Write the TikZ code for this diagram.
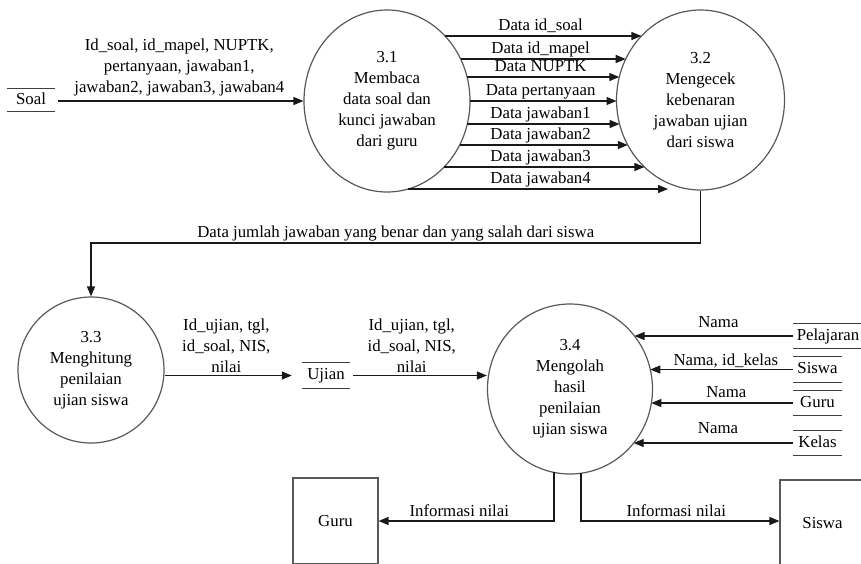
\documentclass[tikz,border=0pt]{standalone}
\usepackage{fontspec}
\setmainfont{Liberation Serif}
\usetikzlibrary{arrows.meta,calc,shapes.geometric}

\begin{document}
\begin{tikzpicture}[
  x=1pt, y=-1pt,
  % half-chord of an ellipse with semi-axes a (along) and b (across) at offset d
  declare function={bx(\a,\b,\d)=\a*sqrt(1-(\d/\b)^2);},
  every node/.style={font=\fontsize{16.8}{21}\selectfont, text=black},
  proc/.style={ellipse, draw=black!65, line width=1.2pt, inner sep=0pt, align=center},
  store/.style={inner sep=0pt, minimum height=25pt, text height=11.5pt, text depth=3.5pt},
  storeline/.style={draw=black!75, line width=1.2pt},
  entity/.style={rectangle, draw=black!65, line width=1.2pt, minimum width=85pt,
                 minimum height=86pt, inner sep=0pt},
  flow/.style={draw=black!90, line width=1.3pt, -{Triangle[length=10pt,width=8pt]}},
  flowlbl/.style={inner sep=1pt, text height=12pt, text depth=4pt, anchor=south},
  multilbl/.style={align=center, inner sep=1pt, anchor=south},
]
\fill[white] (0,0) rectangle (861,563);
\useasboundingbox (0,0) rectangle (861,563);
\clip (0,0) rectangle (861,563);

% processes
\node[proc, minimum width=166pt, minimum height=182pt] (c31) at (387,101)
  {3.1\\Membaca\\data soal dan\\kunci jawaban\\dari guru};
\node[proc, minimum width=168pt, minimum height=180pt] (c32) at (700.5,100)
  {3.2\\Mengecek\\kebenaran\\jawaban ujian\\dari siswa};
\node[proc, minimum width=146pt, minimum height=146pt] (c33) at (91,370)
  {3.3\\Menghitung\\penilaian\\ujian siswa};
\node[proc, minimum width=165pt, minimum height=170pt] (c34) at (570,389)
  {3.4\\Mengolah\\hasil\\penilaian\\ujian siswa};

% data stores
\node[store, minimum width=48pt, minimum height=22pt] (soal) at (31,100) {Soal};
\node[store, minimum width=48pt] (ujian) at (326,375.5) {Ujian};
\node[store, minimum width=70pt] (pel) at (828,336) {Pelajaran};
\node[store, minimum width=49pt] (sis) at (817.5,369.5) {Siswa};
\node[store, minimum width=49pt] (gur) at (817.5,403) {Guru};
\node[store, minimum width=49pt] (kel) at (817.5,443) {Kelas};
\foreach \s in {soal,ujian,pel,sis,gur,kel}
  \draw[storeline] (\s.north west) -- (\s.north east) (\s.south west) -- (\s.south east);

% external entities
\node[entity] (guru) at (335.5,521) {Guru};
\node[entity] (siswa) at (822.5,523) {Siswa};

% Soal -> 3.1
\draw[flow, shorten <=3pt] (soal.east |- c31.west) --
  node[multilbl, midway, yshift=3pt]
  {Id\_soal, id\_mapel, NUPTK,\\pertanyaan, jawaban1,\\jawaban2, jawaban3, jawaban4}
  (c31.west);

% 3.1 -> 3.2, one flow per field
\coordinate (mid) at ($(c31.center)!0.49!(c32.center)$);
\foreach \dy/\lbl [count=\i] in {-65/Data id\_soal, -42/Data id\_mapel, -24/Data NUPTK,
    0/Data pertanyaan, 23/Data jawaban1, 44/Data jawaban2, 66/Data jawaban3} {
  \coordinate (s\i) at ($(c31.center)+({bx(83,91,\dy)},\dy)$);
  \coordinate (e\i) at ($(c32.center)+({-bx(84,90,\dy+1)},\dy+1)$);
  \draw[flow] (s\i) -- (e\i);
  \node[flowlbl] at (mid |- s\i) {\lbl};
}
\coordinate (s8) at ($(c31.center)+({bx(83,91,88)},88)$);
\coordinate (e8) at ($(c32.center)+(-32.5,89)$);
\draw[flow] (s8) -- (e8);
\node[flowlbl] at (mid |- s8) {Data jawaban4};

% 3.2 -> 3.3
\coordinate (bend) at (0,243);
\draw[flow] (c32.south) -- (c32.south |- bend) --
  node[flowlbl, midway] {Data jumlah jawaban yang benar dan yang salah dari siswa}
  (c33.north |- bend) -- (c33.north);

% 3.3 -> Ujian -> 3.4
\draw[flow, shorten >=10pt] (c33.east |- ujian.west) --
  node[multilbl, pos=0.45, yshift=1pt] {Id\_ujian, tgl,\\id\_soal, NIS,\\nilai}
  (ujian.west);
\draw[flow, shorten <=3pt] (ujian.east) --
  node[multilbl, pos=0.45, yshift=1pt] {Id\_ujian, tgl,\\id\_soal, NIS,\\nilai}
  (ujian.east -| c34.west);

% master data stores -> 3.4
\draw[flow] (pel.west) -- node[flowlbl, pos=0.47, yshift=2.5pt] {Nama}
  ($(c34.center)+({bx(82.5,85,-53)},-53)$);
\draw[flow] (sis.west) -- node[flowlbl, pos=0.47, yshift=-2pt] {Nama, id\_kelas}
  ($(c34.center)+({bx(82.5,85,-19.5)},-19.5)$);
\draw[flow] (gur.west) -- node[flowlbl, pos=0.47] {Nama}
  ($(c34.center)+({bx(82.5,85,14)},14)$);
\draw[flow] (kel.west) -- node[flowlbl, pos=0.47, yshift=4pt] {Nama}
  ($(c34.center)+({bx(82.5,85,54)},54)$);

% 3.4 -> Guru, Siswa
\coordinate (o1) at ($(c34.center)+(-16,{bx(85,82.5,-16)})$);
\coordinate (o2) at ($(c34.center)+(11,{bx(85,82.5,11)})$);
\draw[flow] (o1) |- node[flowlbl, pos=0.77, yshift=-1.5pt] {Informasi nilai} (guru.east);
\draw[flow] (o2) |- node[flowlbl, pos=0.74, yshift=-1.5pt] {Informasi nilai} (siswa.west |- guru.east);
\end{tikzpicture}
\end{document}
